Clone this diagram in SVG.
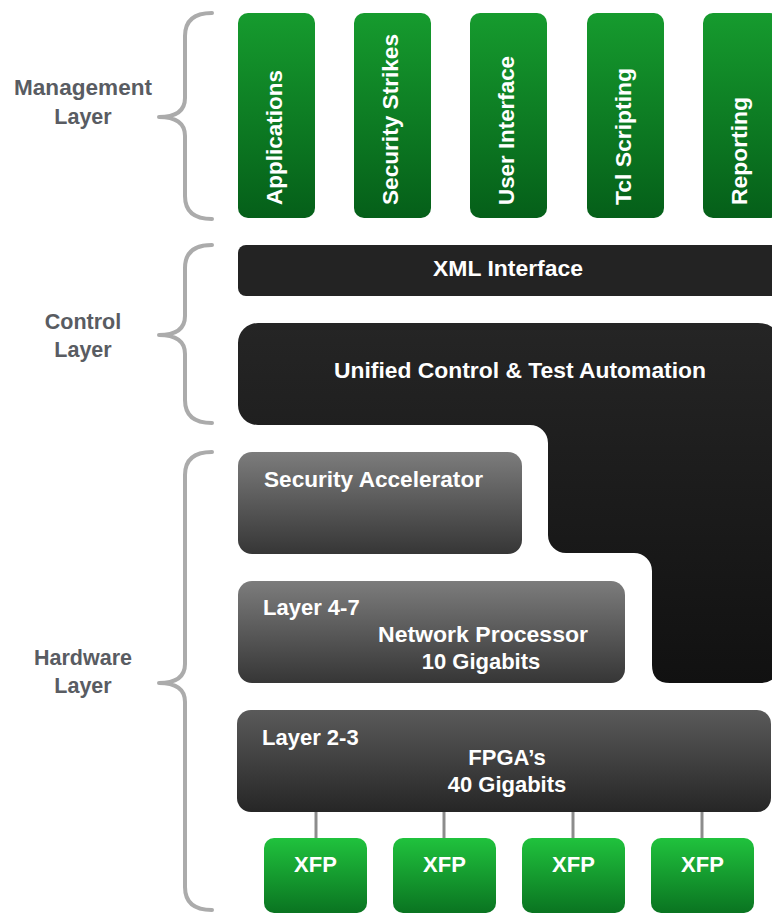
<svg xmlns="http://www.w3.org/2000/svg" width="772" height="913" viewBox="0 0 772 913">
<defs>
<linearGradient id="gGreen" x1="0" y1="0" x2="0" y2="1"><stop offset="0" stop-color="#169b2e"/><stop offset="1" stop-color="#055f19"/></linearGradient>
<linearGradient id="gXfp" x1="0" y1="0" x2="0" y2="1"><stop offset="0" stop-color="#20c23d"/><stop offset="1" stop-color="#0a7421"/></linearGradient>
<linearGradient id="gGray" x1="0" y1="0" x2="0" y2="1"><stop offset="0" stop-color="#7c7c7c"/><stop offset="1" stop-color="#363636"/></linearGradient>
<linearGradient id="gDark" x1="0" y1="0" x2="0" y2="1"><stop offset="0" stop-color="#5a5a5a"/><stop offset="1" stop-color="#262626"/></linearGradient>
<linearGradient id="gUni" gradientUnits="userSpaceOnUse" x1="0" y1="323" x2="0" y2="683"><stop offset="0" stop-color="#252525"/><stop offset="1" stop-color="#111111"/></linearGradient>
</defs>
<style>
.brace{fill:none;stroke:#ababab;stroke-width:4;stroke-linecap:round;stroke-linejoin:round}
.lbl{font-family:"Liberation Sans",Arial,sans-serif;font-weight:bold;font-size:21.5px;fill:#595c62;text-anchor:middle}
.t{font-family:"Liberation Sans",Arial,sans-serif;font-weight:bold;font-size:22px;fill:#ffffff}
.c{text-anchor:middle}
.conn{stroke:#8c8c8c;stroke-width:3}
</style>
<rect width="772" height="913" fill="#ffffff"/>
<g id="braces">
<path class="brace" d="M212 13 Q185 13 185 36 V98 Q185 117 159 117 Q185 117 185 136 V196 Q185 219 212 219"/>
<path class="brace" d="M212 245 Q185 245 185 268 V316 Q185 335 159 335 Q185 335 185 354 V400 Q185 423 212 423"/>
<path class="brace" d="M212 452 Q185 452 185 475 V664 Q185 683 159 683 Q185 683 185 702 V887 Q185 910 212 910"/>
</g>
<g id="layer-labels">
<text class="lbl" x="83" y="95" textLength="138" lengthAdjust="spacingAndGlyphs">Management</text><text class="lbl" x="83" y="124">Layer</text>
<text class="lbl" x="83" y="329">Control</text><text class="lbl" x="83" y="357">Layer</text>
<text class="lbl" x="83" y="665">Hardware</text><text class="lbl" x="83" y="693">Layer</text>
</g>
<g id="applications"><rect x="238" y="13" width="77" height="205" rx="10" fill="url(#gGreen)"/><text class="t" transform="translate(282 205) rotate(-90)" textLength="135" lengthAdjust="spacingAndGlyphs">Applications</text></g>
<g id="security-strikes"><rect x="354" y="13" width="77" height="205" rx="10" fill="url(#gGreen)"/><text class="t" transform="translate(398 205) rotate(-90)" textLength="171" lengthAdjust="spacingAndGlyphs">Security Strikes</text></g>
<g id="user-interface"><rect x="470" y="13" width="77" height="205" rx="10" fill="url(#gGreen)"/><text class="t" transform="translate(514 205) rotate(-90)" textLength="149" lengthAdjust="spacingAndGlyphs">User Interface</text></g>
<g id="tcl-scripting"><rect x="587" y="13" width="77" height="205" rx="10" fill="url(#gGreen)"/><text class="t" transform="translate(631 205) rotate(-90)" textLength="137" lengthAdjust="spacingAndGlyphs">Tcl Scripting</text></g>
<g id="reporting"><rect x="703" y="13" width="77" height="205" rx="10" fill="url(#gGreen)"/><text class="t" transform="translate(747 205) rotate(-90)" textLength="108" lengthAdjust="spacingAndGlyphs">Reporting</text></g>
<g id="xml-interface"><rect x="238" y="245" width="545" height="51" rx="8" fill="#232323"/><text class="t c" x="508" y="276" textLength="150" lengthAdjust="spacingAndGlyphs">XML Interface</text></g>
<g id="unified-control"><path d="M258 323 H758 Q778 323 778 343 V665 Q778 683 760 683 H670 Q652 683 652 665 V571 A18 18 0 0 0 634 553 H566 A18 18 0 0 1 548 535 V443 A18 18 0 0 0 530 425 H258 A20 20 0 0 1 238 405 V343 A20 20 0 0 1 258 323 Z" fill="url(#gUni)"/><text class="t c" x="520" y="378" textLength="372" lengthAdjust="spacingAndGlyphs">Unified Control &amp; Test Automation</text></g>
<g id="security-accelerator"><rect x="238" y="452" width="284" height="102" rx="14" fill="url(#gGray)"/><text class="t" x="264" y="487" textLength="219" lengthAdjust="spacingAndGlyphs">Security Accelerator</text></g>
<g id="layer-4-7"><rect x="238" y="581" width="387" height="102" rx="14" fill="url(#gGray)"/><text class="t" x="263" y="615">Layer 4-7</text><text class="t c" x="483" y="642" textLength="210" lengthAdjust="spacingAndGlyphs">Network Processor</text><text class="t c" x="481" y="669">10 Gigabits</text></g>
<g id="layer-2-3"><rect x="237" y="710" width="534" height="102" rx="14" fill="url(#gDark)"/><text class="t" x="262" y="745">Layer 2-3</text><text class="t c" x="507" y="765">FPGA’s</text><text class="t c" x="507" y="792">40 Gigabits</text></g>
<g id="connectors">
<line class="conn" x1="316" y1="812" x2="316" y2="839"/>
<line class="conn" x1="444" y1="812" x2="444" y2="839"/>
<line class="conn" x1="573" y1="812" x2="573" y2="839"/>
<line class="conn" x1="702" y1="812" x2="702" y2="839"/>
</g>
<g id="xfp-1"><rect x="264" y="838" width="103" height="75" rx="10" fill="url(#gXfp)"/><text class="t c" x="315.5" y="872">XFP</text></g>
<g id="xfp-2"><rect x="393" y="838" width="103" height="75" rx="10" fill="url(#gXfp)"/><text class="t c" x="444.5" y="872">XFP</text></g>
<g id="xfp-3"><rect x="522" y="838" width="103" height="75" rx="10" fill="url(#gXfp)"/><text class="t c" x="573.5" y="872">XFP</text></g>
<g id="xfp-4"><rect x="651" y="838" width="103" height="75" rx="10" fill="url(#gXfp)"/><text class="t c" x="702.5" y="872">XFP</text></g>
</svg>
